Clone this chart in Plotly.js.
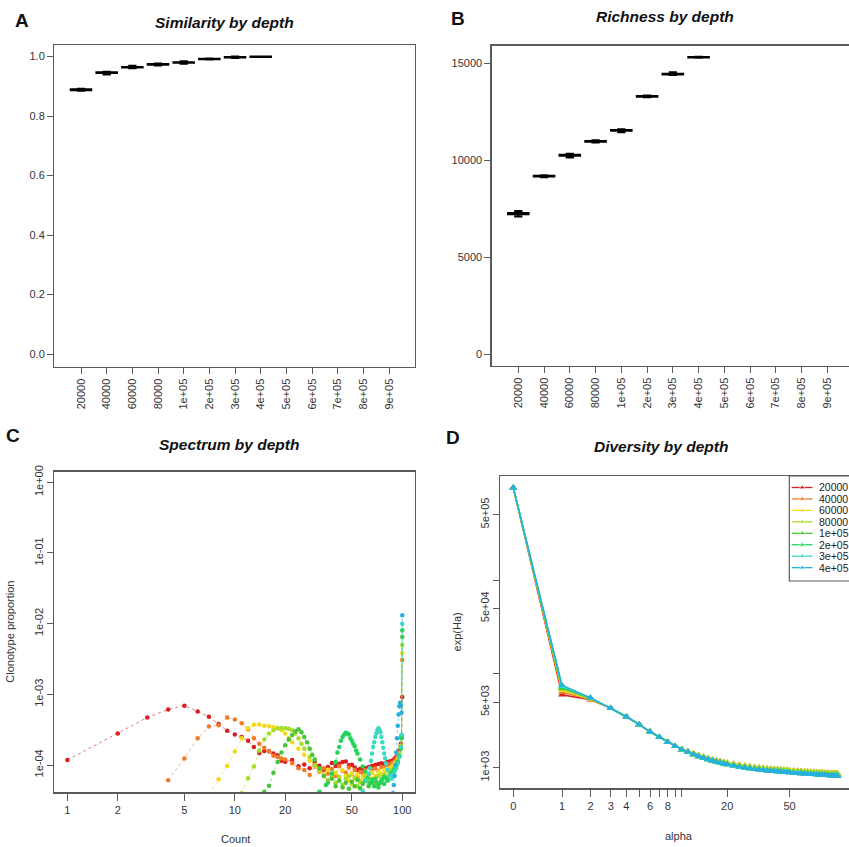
<!DOCTYPE html>
<html>
<head>
<meta charset="utf-8">
<script src="https://cdn.plot.ly/plotly-3.0.1.min.js"></script>
<style>
  html, body { margin: 0; padding: 0; background: #ffffff; }
  #chart { width: 849px; height: 847px; }
</style>
</head>
<body>
<div id="chart"></div>
<script>
// ---------------- DATA ----------------
const depthTicks = ["20000","40000","60000","80000","1e+05","2e+05","3e+05","4e+05","5e+05","6e+05","7e+05","8e+05","9e+05"];
const depthLabels = ["20000","40000","60000","80000","1e+05","2e+05","3e+05","4e+05"];
const depthColors = ["#DA1D1D","#F27A28","#F3DB1C","#A9DC2A","#46C637","#24D45A","#3CDAC0","#27B0DE"];

// Panel A: similarity boxplot stats
const simMedian = [0.889, 0.946, 0.964, 0.974, 0.980, 0.992, 0.998, 1.000];
const simQ1     = [0.887, 0.945, 0.963, 0.973, 0.979, 0.991, 0.997, 0.999];
const simQ3     = [0.890, 0.947, 0.965, 0.975, 0.981, 0.993, 0.999, 1.000];
const simLow    = [0.885, 0.940, 0.961, 0.970, 0.976, 0.990, 0.995, 0.999];
const simHigh   = [0.892, 0.949, 0.969, 0.977, 0.984, 0.994, 1.000, 1.000];

// Panel B: richness boxplot stats
const richMedian = [7250, 9180, 10260, 10980, 11540, 13300, 14450, 15320];
const richQ1     = [7220, 9160, 10230, 10960, 11520, 13280, 14430, 15305];
const richQ3     = [7280, 9200, 10290, 11000, 11560, 13320, 14470, 15335];
const richLow    = [7100, 9130, 10150, 10920, 11450, 13250, 14400, 15295];
const richHigh   = [7380, 9230, 10340, 11040, 11600, 13340, 14540, 15345];

// Panel C: clonotype spectrum (count vs proportion), one pair per depth
const specX1 = [1,2,3,4,5,6,7,8,9,10,11,12,13,14,15,16,17,18,19,20,22,24,26,28,30,32,34,36,38,40,42,44,46,48,50,52,54,56,58,60,63,66,69,72,75,78,81,84,87,90,92,94,96,98,99,100];
const specY1 = [1.18e-4,2.8e-4,4.7e-4,6.1e-4,6.9e-4,5.7e-4,4.8e-4,3.8e-4,3.05e-4,2.7e-4,2.5e-4,2.2e-4,1.8e-4,1.47e-4,1.58e-4,1.56e-4,1.45e-4,1.38e-4,1.15e-4,1.11e-4,1.18e-4,9.6e-5,1.02e-4,9.0e-5,1.1e-4,9.8e-5,8.6e-5,9.4e-5,1.07e-4,9.7e-5,1.04e-4,1.1e-4,1.12e-4,9.9e-5,1.01e-4,9.2e-5,8.5e-5,8.8e-5,8.7e-5,9.1e-5,9.4e-5,9.8e-5,1.0e-4,1.03e-4,1.06e-4,1.04e-4,1.1e-4,1.12e-4,1.15e-4,1.24e-4,1.3e-4,1.4e-4,1.6e-4,2.0e-4,2.6e-4,9.2e-4];
const specX2 = [4,5,6,7,8,9,10,11,12,13,14,15,16,17,18,19,20,22,24,26,28,30,32,34,36,38,40,42,44,46,48,50,52,54,56,58,60,63,66,69,72,75,78,81,84,87,90,92,94,96,98,99,100];
const specY2 = [6.1e-5,1.24e-4,2.4e-4,3.5e-4,3.65e-4,4.7e-4,4.4e-4,3.9e-4,3.2e-4,2.4e-4,2.0e-4,1.75e-4,1.55e-4,1.35e-4,1.3e-4,1.24e-4,1.2e-4,1.06e-4,9.0e-5,8.5e-5,7.2e-5,9.5e-5,8.0e-5,9.0e-5,7.5e-5,8.8e-5,7.0e-5,9.6e-5,8.2e-5,7.8e-5,9.2e-5,7.4e-5,8.6e-5,6.8e-5,8.0e-5,7.6e-5,8.4e-5,7.2e-5,8.8e-5,9.0e-5,8.2e-5,9.4e-5,9.0e-5,1.0e-4,1.02e-4,1.08e-4,1.12e-4,1.2e-4,1.32e-4,1.5e-4,1.9e-4,2.6e-4,3.05e-3];
const specX3 = [7,8,9,10,11,12,13,14,15,16,17,18,19,20,21,22,24,26,28,30,32,34,36,38,40,42,44,46,48,50,52,54,56,58,60,63,66,69,72,75,78,81,84,87,90,92,94,96,98,99,100];
const specY3 = [3.8e-5,6.3e-5,9.7e-5,1.55e-4,2.4e-4,3.3e-4,3.7e-4,3.75e-4,3.6e-4,3.55e-4,3.45e-4,3.3e-4,3.1e-4,2.8e-4,2.4e-4,2.1e-4,1.7e-4,1.4e-4,1.15e-4,9.8e-5,8.2e-5,7.4e-5,8.6e-5,6.6e-5,7.8e-5,6.2e-5,8.4e-5,7.0e-5,6.0e-5,7.6e-5,6.4e-5,7.2e-5,5.8e-5,6.8e-5,7.4e-5,6.6e-5,7.8e-5,7.0e-5,8.0e-5,7.4e-5,8.6e-5,8.2e-5,9.0e-5,9.6e-5,1.05e-4,1.1e-4,1.25e-4,1.45e-4,1.85e-4,2.5e-4,3.8e-3];
const specX4 = [11,12,13,14,15,16,17,18,19,20,21,22,23,24,25,26,28,30,32,34,36,38,40,42,44,46,48,50,52,54,56,58,60,63,66,69,72,75,78,81,84,87,90,92,94,96,98,99,100];
const specY4 = [4.0e-5,6.5e-5,9.5e-5,1.6e-4,2.3e-4,2.8e-4,3.1e-4,3.3e-4,3.35e-4,3.3e-4,3.25e-4,3.1e-4,2.8e-4,2.4e-4,2.0e-4,1.7e-4,1.3e-4,1.0e-4,8.4e-5,7.0e-5,6.2e-5,7.4e-5,5.6e-5,6.8e-5,5.2e-5,6.4e-5,7.0e-5,5.4e-5,6.6e-5,5.0e-5,6.0e-5,5.6e-5,6.8e-5,5.8e-5,6.4e-5,5.4e-5,7.0e-5,6.2e-5,7.4e-5,6.6e-5,7.8e-5,8.6e-5,9.4e-5,1.02e-4,1.15e-4,1.35e-4,1.75e-4,2.4e-4,5.0e-3];
const specX5 = [15,16,17,18,19,20,21,22,23,24,25,26,27,28,29,30,32,34,36,38,40,42,44,46,48,50,52,54,56,58,60,63,66,69,72,75,78,81,84,87,90,92,94,96,98,99,100];
const specY5 = [4.2e-5,5.1e-5,7.8e-5,1.1e-4,1.5e-4,1.9e-4,2.3e-4,2.65e-4,3.0e-4,3.2e-4,2.9e-4,2.5e-4,2.1e-4,1.7e-4,1.4e-4,1.2e-4,9.0e-5,7.0e-5,5.6e-5,6.4e-5,5.0e-5,6.0e-5,4.8e-5,5.6e-5,4.6e-5,5.8e-5,5.0e-5,6.2e-5,4.7e-5,5.4e-5,6.0e-5,5.0e-5,5.6e-5,6.4e-5,5.2e-5,6.0e-5,6.8e-5,6.2e-5,7.0e-5,7.8e-5,8.6e-5,9.5e-5,1.1e-4,1.3e-4,1.7e-4,2.4e-4,6.5e-3];
const specX6 = [32,35,38,40,41,42,43,44,45,46,47,48,49,50,51,52,53,54,56,58,60,62,64,66,68,70,72,74,76,78,80,82,84,86,88,90,92,94,96,98,99,100];
const specY6 = [4.2e-5,5.2e-5,7.6e-5,1.1e-4,1.5e-4,1.8e-4,2.2e-4,2.5e-4,2.7e-4,2.85e-4,2.8e-4,2.7e-4,2.4e-4,2.2e-4,2.0e-4,1.85e-4,1.6e-4,1.45e-4,1.2e-4,9.5e-5,8.0e-5,6.5e-5,5.5e-5,6.2e-5,5.0e-5,5.8e-5,4.8e-5,5.6e-5,6.4e-5,5.4e-5,6.6e-5,6.0e-5,7.0e-5,7.6e-5,8.0e-5,8.8e-5,9.6e-5,1.1e-4,1.35e-4,1.75e-4,2.5e-4,8.1e-3];
const specX7 = [58,61,63,64,65,66,67,68,69,70,71,72,73,74,75,76,77,78,79,80,82,84,86,88,90,92,94,96,98,99,100];
const specY7 = [4.3e-5,6.0e-5,7.5e-5,9.0e-5,1.15e-4,1.45e-4,1.8e-4,2.1e-4,2.5e-4,2.8e-4,3.1e-4,3.3e-4,3.2e-4,2.9e-4,2.5e-4,2.1e-4,1.75e-4,1.45e-4,1.25e-4,1.05e-4,8.5e-5,7.0e-5,6.4e-5,7.2e-5,8.0e-5,9.0e-5,1.05e-4,1.3e-4,1.8e-4,2.7e-4,1.0e-2];
const specX8 = [88,89,90,91,92,93,94,95,96,97,98,99,100];
const specY8 = [4.0e-5,5.2e-5,7.0e-5,1.0e-4,1.5e-4,2.4e-4,3.6e-4,5.2e-4,6.8e-4,7.6e-4,7.0e-4,5.5e-4,1.32e-2];

// Panel D: diversity profile exp(H_alpha)
const alphaHead = [0, 1, 2];
const alphaTail = [3,4,5,6,7,8,9,10,11,12,13,14,15,16,17,18,19,20,22,24,26,28,30,32,34,36,38,40,42,44,46,48,50,53,56,59,62,65,68,71,74,77,80,83,86,89,92,95,98,100];
const divHead1 = [970000, 6000, 5300];
const divHead2 = [970000, 6400, 5350];
const divHead3 = [970000, 6700, 5400];
const divHead4 = [970000, 6900, 5450];
const divHead5 = [970000, 7100, 5500];
const divHead6 = [970000, 7250, 5520];
const divHead7 = [970000, 7400, 5550];
const divHead8 = [970000, 7600, 5570];
const divTailHigh = [4320,3500,2900,2420,2120,1880,1700,1570,1490,1412,1350,1302,1258,1224,1195,1171,1147,1127,1094,1068,1045,1026,1011,998,987,978,970,963,956,950,944,939,934,928,922,916,911,906,901,897,893,889,885,881,878,875,872,869,867,865];
const divTailLow  = [4320,3500,2900,2420,2120,1880,1700,1570,1470,1388,1320,1268,1222,1186,1155,1129,1104,1083,1050,1022,999,980,965,952,941,932,924,917,910,904,898,893,888,882,876,870,865,860,855,851,847,843,839,835,832,829,826,823,821,819];
const alphaTickVals = [0,1,2,3,4,5,6,7,8,9,10,20,50];
const alphaTickText = ["0","1","2","3","4","","6","","8","","","20","50"];

// ---------------- BUILD ----------------
const FONT = "Liberation Sans, Arial, sans-serif";
const W = 849, H = 847;
const px = v => v / W;          // pixel x -> paper
const py = v => 1 - v / H;      // pixel y -> paper

function hexA(hex, a) {
  const n = parseInt(hex.slice(1), 16);
  return "rgba(" + ((n >> 16) & 255) + "," + ((n >> 8) & 255) + "," + (n & 255) + "," + a + ")";
}

const traces = [];
const boxX = depthLabels.map((_, i) => i + 1);

traces.push({
  type: "box", xaxis: "x", yaxis: "y", x: boxX,
  q1: simQ1, median: simMedian, q3: simQ3, lowerfence: simLow, upperfence: simHigh,
  width: 0.8, whiskerwidth: 0.4, fillcolor: "white",
  line: { color: "#000", width: 2 }, boxpoints: false, showlegend: false, hoverinfo: "skip"
});
traces.push({
  type: "box", xaxis: "x2", yaxis: "y2", x: boxX,
  q1: richQ1, median: richMedian, q3: richQ3, lowerfence: richLow, upperfence: richHigh,
  width: 0.8, whiskerwidth: 0.4, fillcolor: "white",
  line: { color: "#000", width: 2 }, boxpoints: false, showlegend: false, hoverinfo: "skip"
});

const specXs = [specX1, specX2, specX3, specX4, specX5, specX6, specX7, specX8];
const specYs = [specY1, specY2, specY3, specY4, specY5, specY6, specY7, specY8];
specXs.forEach((xs, i) => {
  traces.push({
    type: "scatter", mode: "lines+markers", xaxis: "x3", yaxis: "y3",
    x: xs, y: specYs[i], name: depthLabels[i], showlegend: false,
    line: { color: hexA(depthColors[i], 0.65), width: 0.9, dash: "dot" },
    marker: { color: depthColors[i], size: 4.5 }, hoverinfo: "skip"
  });
});

const alphaAll = alphaHead.concat(alphaTail);
const divHeads = [divHead1, divHead2, divHead3, divHead4, divHead5, divHead6, divHead7, divHead8];
divHeads.forEach((hd, i) => {
  traces.push({
    type: "scatter", mode: "lines+markers", xaxis: "x4", yaxis: "y4",
    x: alphaAll.map(a => a + 1),
    y: hd.concat(i < 4 ? divTailHigh : divTailLow),
    name: depthLabels[i], showlegend: false,
    line: { color: depthColors[i], width: 1.5 },
    marker: { color: depthColors[i], size: 7, symbol: "triangle-up" }, hoverinfo: "skip"
  });
});

// manual legend for panel D (drawn on a full-page overlay axis in pixel units)
const legRow0 = 487.5, legStep = 11.45;
depthLabels.forEach((lab, i) => {
  const yy = legRow0 + i * legStep;
  traces.push({
    type: "scatter", mode: "lines+markers", xaxis: "x5", yaxis: "y5",
    x: [791.7, 802.3, 812.5], y: [yy, yy, yy], showlegend: false, hoverinfo: "skip",
    line: { color: depthColors[i], width: 1.3 },
    marker: { color: depthColors[i], size: [0, 6, 0], symbol: "triangle-up" }
  });
});

const axBase = {
  showline: true, linecolor: "#5a5a5a", linewidth: 1.3,
  ticks: "outside", ticklen: 6, tickwidth: 1, tickcolor: "#5a5a5a",
  showgrid: false, zeroline: false, fixedrange: true,
  tickfont: { family: FONT, size: 11, color: "#333" }
};

const annotations = [];
function ann(text, x, y, size, opts) {
  annotations.push(Object.assign({
    text: text, x: px(x), y: py(y), xref: "paper", yref: "paper",
    showarrow: false, xanchor: "center", yanchor: "middle",
    font: { family: FONT, size: size, color: "#111" }
  }, opts || {}));
}
ann("<b>A</b>", 22, 20, 19);
ann("<b>B</b>", 457.5, 19, 19);
ann("<b>C</b>", 12.5, 435.5, 19);
ann("<b>D</b>", 452.5, 437.5, 19);
ann("<b><i>Similarity by depth</i></b>", 224, 23, 15.5);
ann("<b><i>Richness by depth</i></b>", 664.7, 17, 15.5);
ann("<b><i>Spectrum by depth</i></b>", 229, 445, 15.5);
ann("<b><i>Diversity by depth</i></b>", 661.3, 446.7, 15.5);
ann("Clonotype proportion", 10, 631.7, 11, { textangle: -90, font: { family: FONT, size: 11, color: "#333" } });
ann("Count", 235, 839, 11, { font: { family: FONT, size: 11, color: "#333" } });
ann("exp(Ha)", 456.7, 631.7, 11, { textangle: -90, font: { family: FONT, size: 11, color: "#333" } });
ann("alpha", 679, 836, 11, { font: { family: FONT, size: 11, color: "#333" } });
depthLabels.forEach((lab, i) => {
  ann(lab, 816.5, legRow0 + i * legStep, 10.5, { xanchor: "left", font: { family: FONT, size: 10.5, color: "#222" } });
});

const shapes = [{
  type: "rect", xref: "paper", yref: "paper",
  x0: px(789.3), x1: px(880), y0: py(581), y1: py(476),
  line: { color: "#5a5a5a", width: 1.2 }, fillcolor: "rgba(0,0,0,0)", layer: "above"
}];

const layout = {
  width: W, height: H, autosize: false,
  margin: { l: 0, r: 0, t: 0, b: 0, pad: 0 },
  paper_bgcolor: "#ffffff", plot_bgcolor: "rgba(0,0,0,0)",
  showlegend: false,
  xaxis: Object.assign({}, axBase, {
    domain: [px(54.3), px(415)], range: [-0.04, 14.01], anchor: "y", mirror: true,
    tickmode: "array", tickvals: depthTicks.map((_, i) => i + 1), ticktext: depthTicks, tickangle: -90
  }),
  yaxis: Object.assign({}, axBase, {
    domain: [py(367), py(45)], range: [-0.0437, 1.039], anchor: "x", mirror: true,
    tickmode: "array", tickvals: [0, 0.2, 0.4, 0.6, 0.8, 1.0], ticktext: ["0.0","0.2","0.4","0.6","0.8","1.0"]
  }),
  xaxis2: Object.assign({}, axBase, {
    domain: [px(491.7), 1], range: [-0.033, 13.84], anchor: "y2", mirror: true,
    tickmode: "array", tickvals: depthTicks.map((_, i) => i + 1), ticktext: depthTicks, tickangle: -90
  }),
  yaxis2: Object.assign({}, axBase, {
    domain: [py(366), py(45.7)], range: [-612, 15912], anchor: "x2",
    tickmode: "array", tickvals: [0, 5000, 10000, 15000], ticktext: ["0","5000","10000","15000"]
  }),
  xaxis3: Object.assign({}, axBase, {
    type: "log", domain: [px(54.3), px(415)], range: [-0.078, 2.076], anchor: "y3", mirror: true,
    tickmode: "array", tickvals: [1, 2, 5, 10, 20, 50, 100], ticktext: ["1","2","5","10","20","50","100"], ticklen: 7
  }),
  yaxis3: Object.assign({}, axBase, {
    type: "log", domain: [py(792.3), py(471.7)], range: [-4.386, 0.15], anchor: "x3", mirror: true,
    tickmode: "array", tickvals: [1e-4, 1e-3, 1e-2, 1e-1, 1], ticktext: ["1e-04","1e-03","1e-02","1e-01","1e+00"], tickangle: -90
  }),
  xaxis4: Object.assign({}, axBase, {
    type: "log", domain: [px(500.3), 1], range: [-0.0803, 2.0748], anchor: "y4", mirror: true,
    tickmode: "array", tickvals: alphaTickVals.map(a => a + 1), ticktext: alphaTickText, ticklen: 7
  }),
  yaxis4: Object.assign({}, axBase, {
    type: "log", domain: [py(788.3), py(476)], range: [2.781, 6.111], anchor: "x4",
    tickmode: "array", tickvals: [1e3, 5e3, 1e4, 5e4, 1e5, 5e5], ticktext: ["1e+03","5e+03","","5e+04","","5e+05"], tickangle: -90
  }),
  xaxis5: { domain: [0, 1], range: [0, W], visible: false, fixedrange: true, anchor: "y5" },
  yaxis5: { domain: [0, 1], range: [H, 0], visible: false, fixedrange: true, anchor: "x5" },
  annotations: annotations,
  shapes: shapes
};

Plotly.newPlot("chart", traces, layout, { staticPlot: true, displayModeBar: false, responsive: false });
</script>
</body>
</html>
